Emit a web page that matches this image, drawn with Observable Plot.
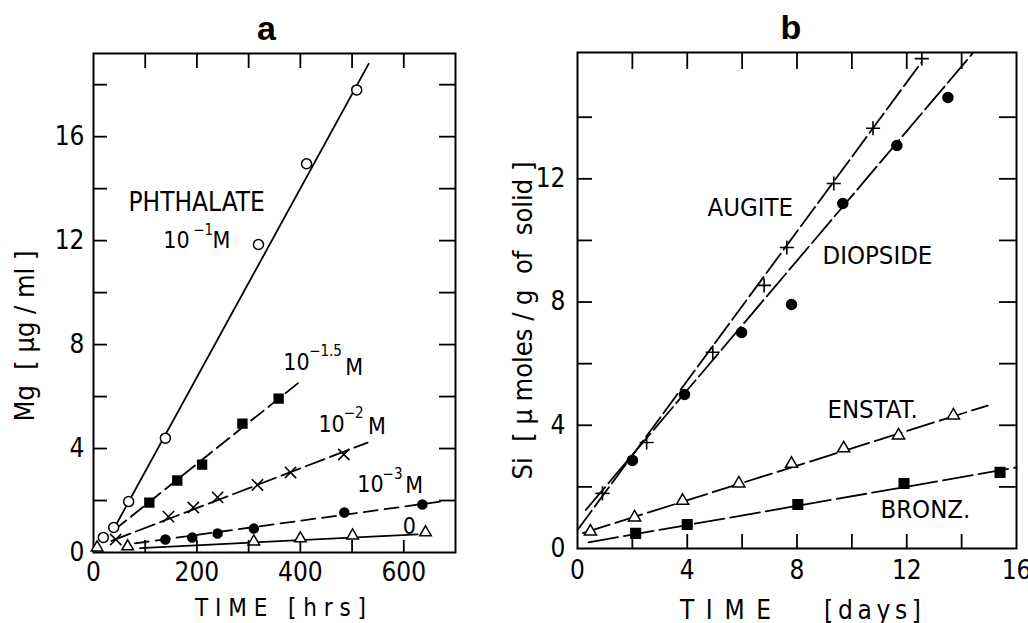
<!DOCTYPE html>
<html>
<head>
<meta charset="utf-8">
<script src="https://cdn.jsdelivr.net/npm/d3@7"></script>
<script src="https://cdn.jsdelivr.net/npm/@observablehq/plot@0.6"></script>
<style>
  html, body { margin: 0; padding: 0; background: #fff; }
  #wrap { position: relative; width: 1028px; height: 623px; background: #fff; overflow: hidden; }
  #pa { position: absolute; left: 0; top: 0; }
  #pb { position: absolute; left: 470px; top: 0; }
</style>
</head>
<body>
<div id="wrap"><div id="pa"></div><div id="pb"></div></div>
<script>
// ---------------- Panel a data: Mg [µg/ml] vs TIME [hrs] ----------------
const hrsP1 = [19, 39, 68, 139, 319, 412, 509];
const mgP1 = [0.58, 0.96, 1.96, 4.4, 11.85, 14.96, 17.8];
const hrsP15 = [108, 162, 210, 288, 358];
const mgP15 = [1.92, 2.77, 3.38, 4.96, 5.92];
const hrsP2 = [43, 145, 193, 240, 317, 381, 484];
const mgP2 = [0.5, 1.38, 1.73, 2.12, 2.6, 3.08, 3.77];
const hrsP3 = [139, 191, 240, 310, 485, 636];
const mgP3 = [0.5, 0.58, 0.73, 0.92, 1.54, 1.85];
const hrsP0 = [7, 66, 310, 400, 501, 642];
const mgP0 = [0.19, 0.23, 0.42, 0.54, 0.65, 0.77];
// fitted lines (end points)
const fitHrsP1 = [39, 532], fitMgP1 = [0.9, 18.8];
const fitHrsP15 = [39, 397], fitMgP15 = [0.85, 6.54];
const fitHrsP2 = [35, 530], fitMgP2 = [0.45, 4.23];
const fitHrsP3 = [80, 671], fitMgP3 = [0.35, 1.96];
const fitHrsP0 = [90, 627], fitMgP0 = [0.17, 0.7];
const xTicksA = [0, 200, 400, 600];
const yTicksA = [0, 4, 8, 12, 16];

// ---------------- Panel b data: Si [µmoles/g of solid] vs TIME [days] ----------------
const dayAug = [0.91, 2.52, 4.93, 6.8, 7.63, 9.34, 10.77, 12.55];
const siAug = [1.79, 3.44, 6.37, 8.54, 9.77, 11.85, 13.64, 15.9];
const dayDio = [2.0, 3.9, 5.98, 7.8, 9.67, 11.64, 13.5];
const siDio = [2.86, 5.0, 7.01, 7.92, 11.2, 13.08, 14.64];
const dayEns = [0.47, 2.08, 3.83, 5.88, 7.8, 9.7, 11.7, 13.7];
const siEns = [0.55, 1.01, 1.55, 2.11, 2.75, 3.25, 3.67, 4.32];
const dayBro = [2.12, 4.0, 8.03, 11.9, 15.4];
const siBro = [0.49, 0.78, 1.43, 2.11, 2.47];
const fitDayAug = [0, 12.55], fitSiAug = [0.6, 15.8];
const fitDayDio = [0.3, 14.4], fitSiDio = [1.25, 16.07];
const fitDayEns = [0.2, 14.95], fitSiEns = [0.5, 4.64];
const fitDayBro = [0.4, 16.0], fitSiBro = [0.2, 2.63];
const xTicksB = [0, 4, 8, 12, 16];
const yTicksB = [0, 4, 8, 12];

const FONT = '"Liberation Sans Narrow", "DejaVu Sans Condensed", "Liberation Sans", sans-serif';
const zip = (xs, ys) => xs.map((x, i) => ({x, y: ys[i]}));
const range = (a, b, s) => d3.range(a, b + 1e-9, s);
const NB = "\u00a0";

function innerTicks(fw, fh, xs, ys, lenX, lenY) {
  return [
    Plot.tickX(xs, {x: d => d, insetTop: fh - lenX, strokeWidth: 1.8}),
    Plot.tickX(xs, {x: d => d, insetBottom: fh - lenX - 3, strokeWidth: 1.8}),
    Plot.tickY(ys, {y: d => d, insetRight: fw - lenY, strokeWidth: 1.8}),
    Plot.tickY(ys, {y: d => d, insetLeft: fw - lenY - 2, strokeWidth: 1.8})
  ];
}

// ---------- Panel a ----------
const H = 623;
const WA = 470, mA = {l: 93, r: 15, t: 53, b: 71};
const fwA = WA - mA.l - mA.r, fhA = H - mA.t - mA.b;
const labelsA = [
  {x: 67.7, y: 13.45, t: "PHTHALATE", s: 26},
  {x: 135, y: 12.0, t: "10", s: 23},
  {x: 193, y: 12.42, t: "\u22121", s: 15},
  {x: 230, y: 12.0, t: "M", s: 23},
  {x: 367, y: 7.3, t: "10", s: 23},
  {x: 417, y: 7.75, t: "\u22121.5", s: 15},
  {x: 487, y: 7.12, t: "M", s: 23},
  {x: 435, y: 4.92, t: "10", s: 23},
  {x: 484, y: 5.35, t: "\u22122", s: 15},
  {x: 531, y: 4.85, t: "M", s: 23},
  {x: 510, y: 2.62, t: "10", s: 23},
  {x: 559, y: 3.02, t: "\u22123", s: 15},
  {x: 603, y: 2.58, t: "M", s: 23},
  {x: 598, y: 1.0, t: "0", s: 23}
];
const plotA = Plot.plot({
  width: WA, height: H,
  marginLeft: mA.l, marginRight: mA.r, marginTop: mA.t, marginBottom: mA.b,
  style: {fontFamily: FONT, fontSize: "24px", background: "white", color: "black", overflow: "visible"},
  x: {domain: [0, 700]},
  y: {domain: [0, 19.2]},
  marks: [
    Plot.frame({strokeWidth: 2}),
    ...innerTicks(fwA, fhA, range(100, 600, 100), range(2, 18, 2), 12, 14),
    Plot.axisX(xTicksA, {tickSize: 0, tickPadding: 10, fontSize: 26, label: null}),
    Plot.axisY(yTicksA, {tickSize: 0, tickPadding: 9, fontSize: 26, label: null}),
    Plot.line(zip(fitHrsP1, fitMgP1), {x: "x", y: "y", strokeWidth: 1.8}),
    Plot.line(zip(fitHrsP15, fitMgP15), {x: "x", y: "y", strokeWidth: 1.8, strokeDasharray: "16,6"}),
    Plot.line(zip(fitHrsP2, fitMgP2), {x: "x", y: "y", strokeWidth: 1.8, strokeDasharray: "20,6"}),
    Plot.line(zip(fitHrsP3, fitMgP3), {x: "x", y: "y", strokeWidth: 1.8, strokeDasharray: "14,7"}),
    Plot.line(zip(fitHrsP0, fitMgP0), {x: "x", y: "y", strokeWidth: 1.8}),
    Plot.dot(zip(hrsP0, mgP0), {x: "x", y: "y", symbol: "triangle", r: 4.3, fill: "white", stroke: "black", strokeWidth: 1.5}),
    Plot.dot(zip(hrsP3, mgP3), {x: "x", y: "y", symbol: "circle", r: 4.5, fill: "black", stroke: "black"}),
    Plot.dot(zip(hrsP2, mgP2), {x: "x", y: "y", symbol: "times", r: 5.2, stroke: "black", strokeWidth: 1.6}),
    Plot.dot(zip(hrsP15, mgP15), {x: "x", y: "y", symbol: "square", r: 5, fill: "black", stroke: "black"}),
    Plot.dot(zip(hrsP1, mgP1), {x: "x", y: "y", symbol: "circle", r: 5, fill: "white", stroke: "black", strokeWidth: 1.5}),
    Plot.text(labelsA, {x: "x", y: "y", text: "t", fontSize: "s", textAnchor: "start", fill: "black"}),
    Plot.text(["a"], {frameAnchor: "top", dx: -8, dy: -38, fontSize: 34, fontWeight: "bold", fontFamily: '"Liberation Sans", sans-serif'}),
    Plot.text([`T${NB}I${NB}M${NB}E${NB}${NB}${NB}[${NB}h${NB}r${NB}s${NB}]`], {frameAnchor: "bottom", textAnchor: "middle", dx: 6, dy: 63, fontSize: 24}),
    Plot.text([`Mg${NB}${NB}[${NB}\u00b5g${NB}/${NB}ml${NB}]`], {frameAnchor: "left", textAnchor: "middle", lineAnchor: "middle", dx: -68, dy: 33, rotate: -90, fontSize: 27})
  ]
});
document.getElementById("pa").appendChild(plotA);

// ---------- Panel b ----------
const WB = 558, mB = {l: 107, r: 12, t: 52, b: 75};
const fwB = WB - mB.l - mB.r, fhB = H - mB.t - mB.b;
const labelsB = [
  {x: 4.74, y: 11.07, t: "AUGITE"},
  {x: 8.93, y: 9.51, t: "DIOPSIDE"},
  {x: 9.11, y: 4.51, t: "ENSTAT."},
  {x: 11.04, y: 1.27, t: "BRONZ."}
];
const plotB = Plot.plot({
  width: WB, height: H,
  marginLeft: mB.l, marginRight: mB.r, marginTop: mB.t, marginBottom: mB.b,
  style: {fontFamily: FONT, fontSize: "24px", background: "white", color: "black", overflow: "visible"},
  x: {domain: [0, 16]},
  y: {domain: [0, 16.1]},
  marks: [
    Plot.frame({strokeWidth: 2}),
    ...innerTicks(fwB, fhB, range(2, 14, 2), range(2, 14, 2), 14, 15),
    Plot.axisX(xTicksB, {tickSize: 0, tickPadding: 12, fontSize: 26, label: null}),
    Plot.axisY(yTicksB, {tickSize: 0, tickPadding: 12, fontSize: 26, label: null}),
    Plot.line(zip(fitDayAug, fitSiAug), {x: "x", y: "y", strokeWidth: 1.8, strokeDasharray: "24,5"}),
    Plot.line(zip(fitDayDio, fitSiDio), {x: "x", y: "y", strokeWidth: 1.8, strokeDasharray: "30,5"}),
    Plot.line(zip(fitDayEns, fitSiEns), {x: "x", y: "y", strokeWidth: 1.8, strokeDasharray: "28,6"}),
    Plot.line(zip(fitDayBro, fitSiBro), {x: "x", y: "y", strokeWidth: 1.8, strokeDasharray: "30,6"}),
    Plot.dot(zip(dayAug, siAug), {x: "x", y: "y", symbol: "plus", r: 4.6, stroke: "black", strokeWidth: 1.6}),
    Plot.dot(zip(dayDio, siDio), {x: "x", y: "y", symbol: "circle", r: 5, fill: "black", stroke: "black"}),
    Plot.dot(zip(dayEns, siEns), {x: "x", y: "y", symbol: "triangle", r: 4.5, fill: "white", stroke: "black", strokeWidth: 1.5}),
    Plot.dot(zip(dayBro, siBro), {x: "x", y: "y", symbol: "square", r: 5.4, fill: "black", stroke: "black"}),
    Plot.text(labelsB, {x: "x", y: "y", text: "t", fontSize: 25.5, textAnchor: "start", fill: "black"}),
    Plot.text(["b"], {frameAnchor: "top", dx: -6, dy: -38, fontSize: 34, fontWeight: "bold", fontFamily: '"Liberation Sans", sans-serif'}),
    Plot.text([`T\u2002I\u2002M\u2002E`], {frameAnchor: "bottom", textAnchor: "middle", dx: -71.5, dy: 70, fontSize: 26}),
    Plot.text([`[\u2009d\u2009a\u2009y\u2009s\u2009]`], {frameAnchor: "bottom", textAnchor: "middle", dx: 75.5, dy: 70, fontSize: 26}),
    Plot.text([`Si${NB}${NB}[${NB}\u00b5${NB}moles${NB}/${NB}g${NB}${NB}of${NB}${NB}solid${NB}]`], {frameAnchor: "left", textAnchor: "middle", lineAnchor: "middle", dx: -54, dy: 20, rotate: -90, fontSize: 27})
  ]
});
document.getElementById("pb").appendChild(plotB);
</script>
</body>
</html>
